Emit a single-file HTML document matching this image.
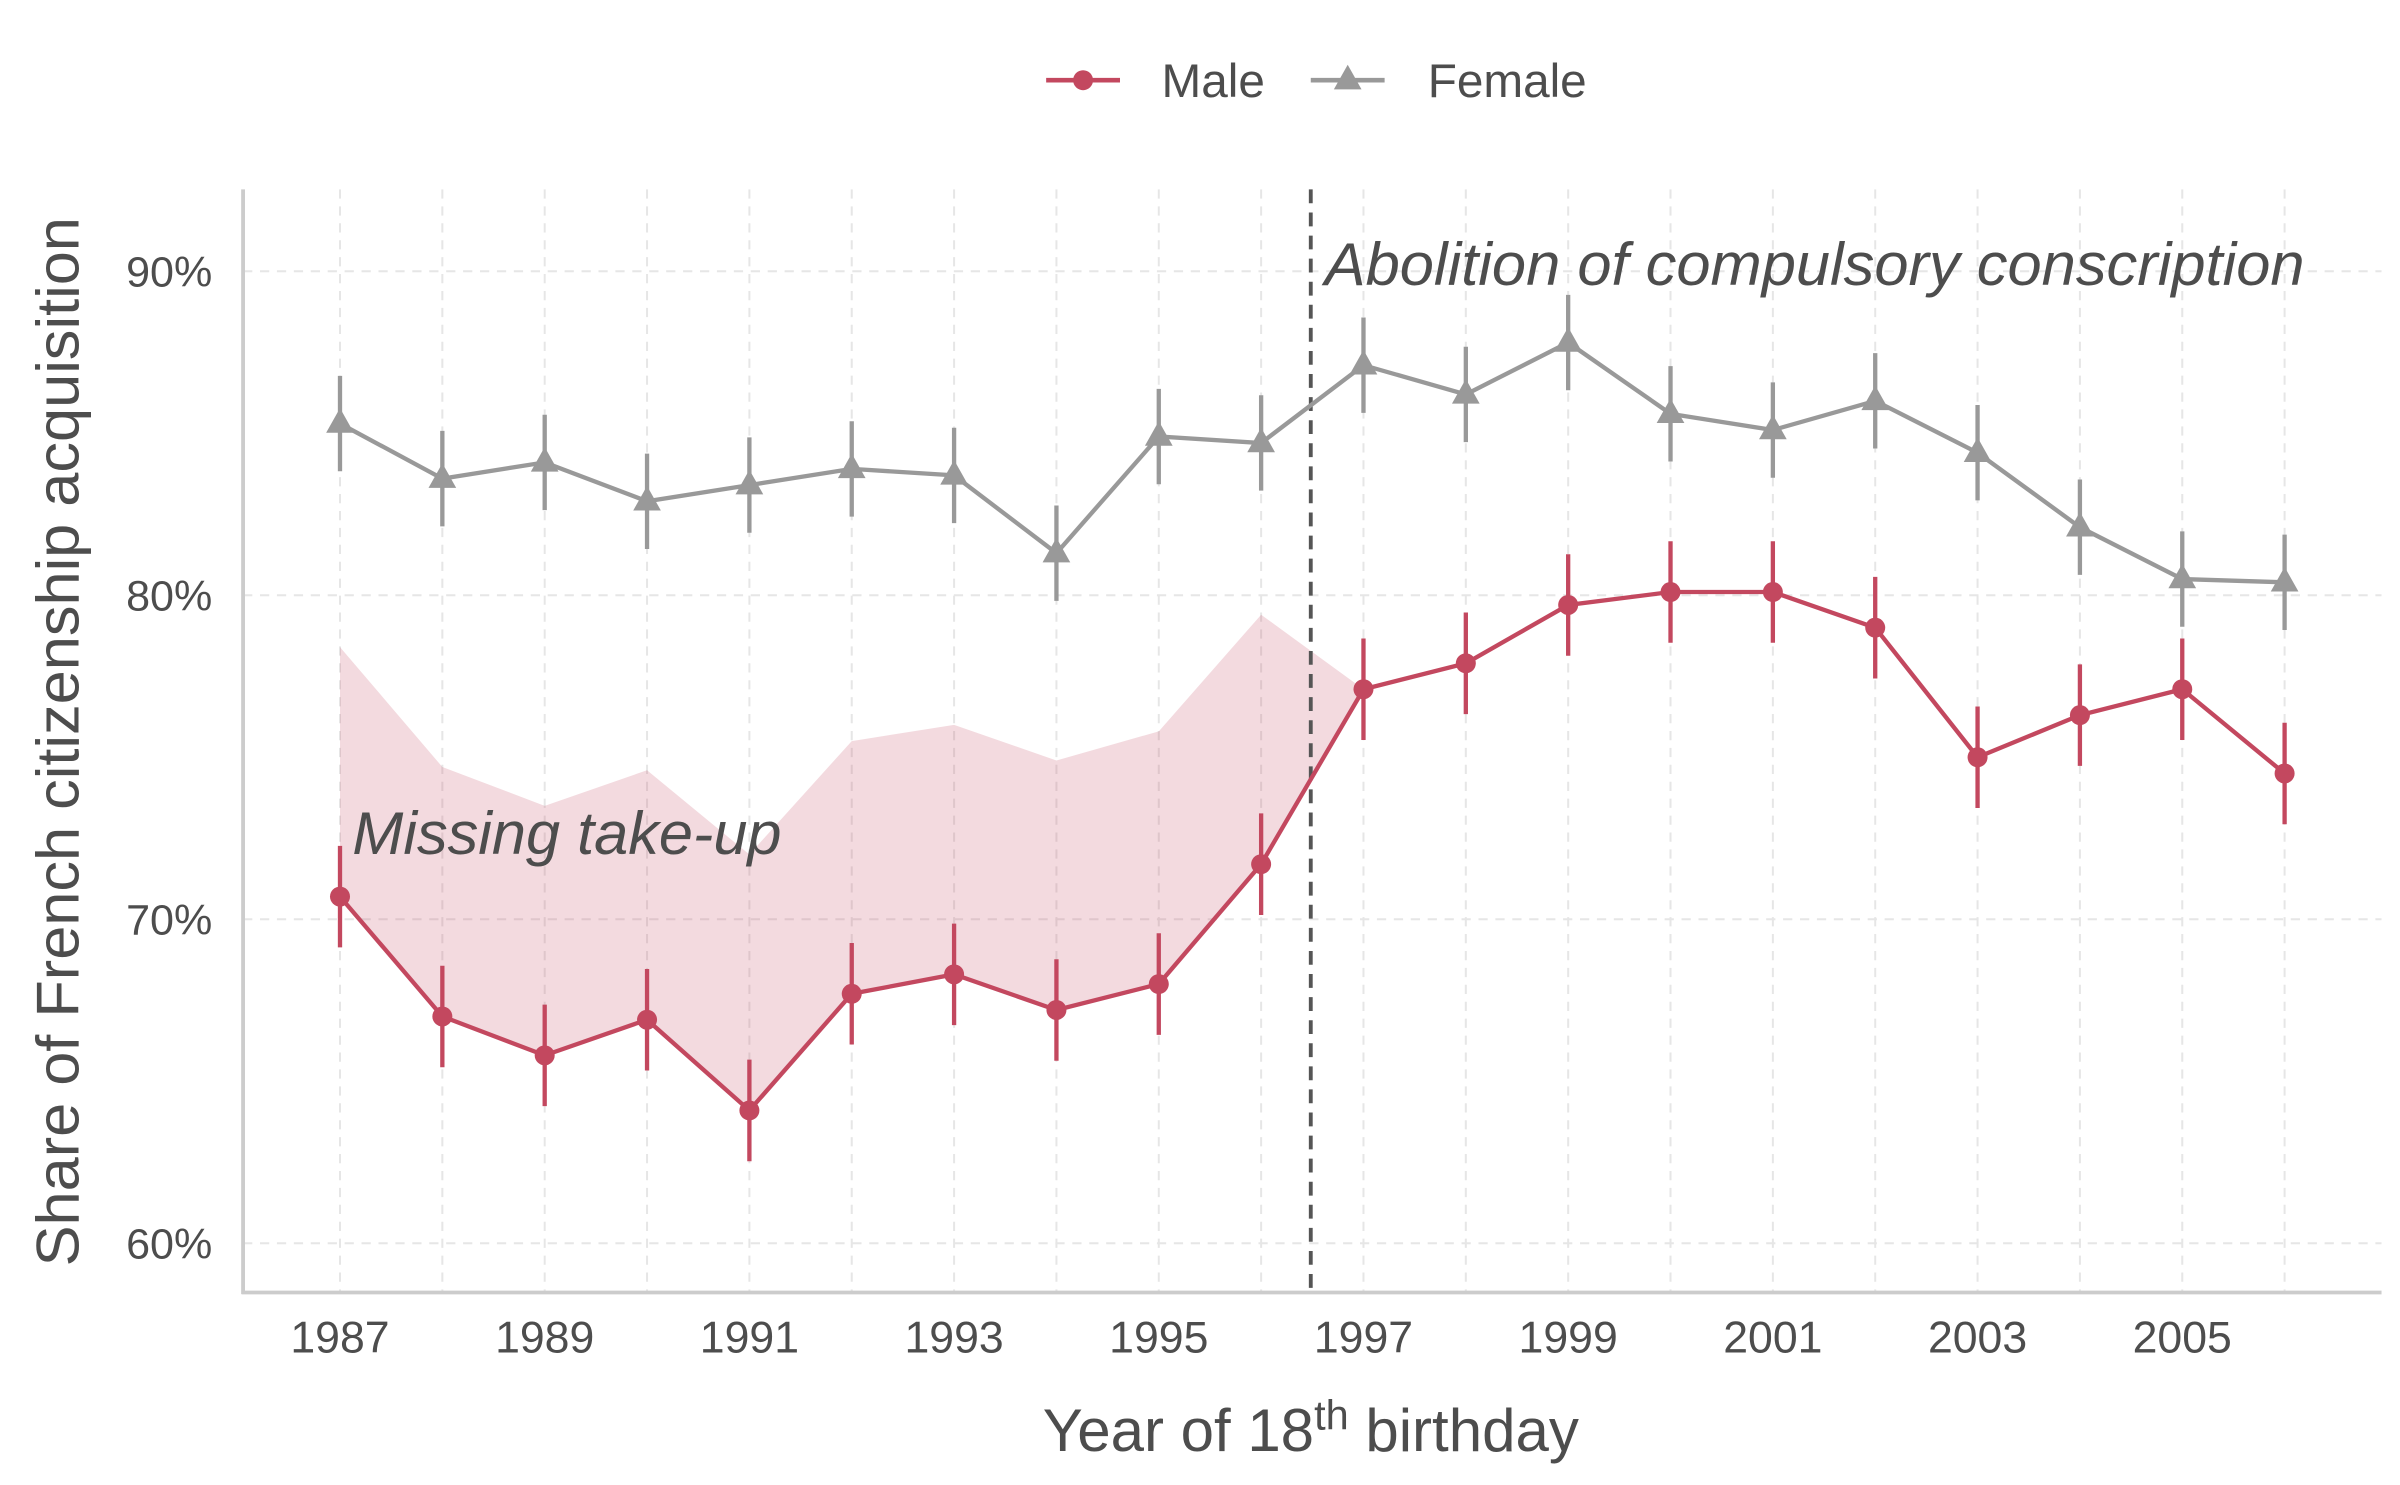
<!DOCTYPE html>
<html><head><meta charset="utf-8"><style>
html,body{margin:0;padding:0;background:#fff}
svg{display:block}
text{font-family:"Liberation Sans",Arial,sans-serif;fill:#4d4d4d}
</style></head><body>
<svg id="s" width="2400" height="1485" viewBox="0 0 1560 965" xmlns="http://www.w3.org/2000/svg"></svg>
<script>
const s=document.getElementById('s');
const X=y=>221+(y-1987)*66.526, Y=v=>808-(v-60)*21.06;
let h='';
for(let yr=1987;yr<=2006;yr++)h+=`<line x1="${X(yr)}" x2="${X(yr)}" y1="123" y2="840" stroke="#e6e6e6" stroke-width="1.3" stroke-dasharray="6,5"/>`;
for(let v=60;v<=90;v+=10){h+=`<line x1="158" x2="1548" y1="${Y(v)}" y2="${Y(v)}" stroke="#e6e6e6" stroke-width="1.3" stroke-dasharray="6,5"/>`;
h+=`<text x="138" y="${Y(v)+10}" font-size="28" text-anchor="end">${v}%</text>`;}
const male=[70.7,67.0,65.8,66.9,64.1,67.7,68.3,67.2,68.0,71.7,77.1,77.9,79.7,80.1,80.1,79.0,75.0,76.3,77.1,74.5];
const fem=[85.3,83.6,84.1,82.9,83.4,83.9,83.7,81.3,84.9,84.7,87.1,86.2,87.8,85.6,85.1,86.0,84.4,82.1,80.5,80.4];
const up=[78.4,74.7,73.5,74.6,72.0,75.5,76.0,74.9,75.8,79.4,77.1];
let pts=up.map((v,i)=>X(1987+i)+','+Y(v));
for(let i=10;i>=0;i--)pts.push(X(1987+i)+','+Y(male[i]));
h+=`<polygon points="${pts.join(' ')}" fill="#c3485f" fill-opacity="0.2"/>`;
h+=`<line x1="158" x2="158" y1="123" y2="841" stroke="#cccccc" stroke-width="2.5"/><line x1="157" x2="1548" y1="840" y2="840" stroke="#cccccc" stroke-width="2.5"/>`;
for(let yr=1987;yr<=2005;yr+=2)h+=`<text x="${X(yr)}" y="879" font-size="29" text-anchor="middle">${yr}</text>`;
h+=`<line x1="852" x2="852" y1="123" y2="840" stroke="#555" stroke-width="2.5" stroke-dasharray="9,6"/>`;
h+=`<polyline points="${fem.map((v,i)=>X(1987+i)+','+Y(v)).join(' ')}" fill="none" stroke="#999" stroke-width="2.8"/>`;
fem.forEach((v,i)=>{const x=X(1987+i),y=Y(v);h+=`<line x1="${x}" x2="${x}" y1="${y-31}" y2="${y+31}" stroke="#999" stroke-width="2.8"/><polygon points="${x},${y-10} ${x-9},${y+6} ${x+9},${y+6}" fill="#999"/>`;});
h+=`<polyline points="${male.map((v,i)=>X(1987+i)+','+Y(v)).join(' ')}" fill="none" stroke="#c3485f" stroke-width="2.8"/>`;
male.forEach((v,i)=>{const x=X(1987+i),y=Y(v);h+=`<line x1="${x}" x2="${x}" y1="${y-33}" y2="${y+33}" stroke="#c3485f" stroke-width="2.8"/><circle cx="${x}" cy="${y}" r="6.5" fill="#c3485f"/>`;});
h+=`<text x="861" y="185" font-size="39" font-style="italic" textLength="637" lengthAdjust="spacingAndGlyphs">Abolition of compulsory conscription</text>`;
h+=`<text x="229" y="555" font-size="39" font-style="italic" textLength="279" lengthAdjust="spacingAndGlyphs">Missing take-up</text>`;
h+=`<text x="852" y="943" font-size="39" text-anchor="middle">Year of 18<tspan font-size="27" dy="-14">th</tspan><tspan dy="14"> birthday</tspan></text>`;
h+=`<text transform="translate(51,482) rotate(-90)" font-size="39" text-anchor="middle" textLength="682" lengthAdjust="spacingAndGlyphs">Share of French citizenship acquisition</text>`;
h+=`<line x1="680" x2="728" y1="52" y2="52" stroke="#c3485f" stroke-width="3"/><circle cx="704" cy="52" r="6.5" fill="#c3485f"/><text x="755" y="63" font-size="31">Male</text>`;
h+=`<line x1="852" x2="900" y1="52" y2="52" stroke="#999" stroke-width="3"/><polygon points="876,42 867,58 885,58" fill="#999"/><text x="928" y="63" font-size="31">Female</text>`;
s.innerHTML=h;
</script>
</body></html>
